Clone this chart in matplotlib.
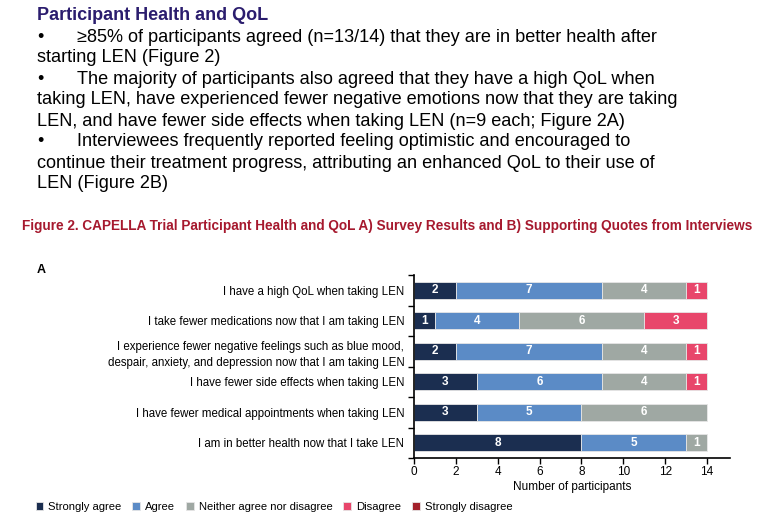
import matplotlib.pyplot as plt
import numpy as np

plt.rcParams['font.family'] = ['Liberation Sans', 'DejaVu Sans']

# survey statements, bottom to top
statements = [
    "I am in better health now that I take LEN",
    "I have fewer medical appointments when taking LEN",
    "I have fewer side effects when taking LEN",
    "I experience fewer negative feelings such as blue mood,\ndespair, anxiety, and depression now that I am taking LEN",
    "I take fewer medications now that I am taking LEN",
    "I have a high QoL when taking LEN",
]
strongly_agree = [8, 3, 3, 2, 1, 2]
agree = [5, 5, 6, 7, 4, 7]
neither = [1, 6, 4, 4, 6, 4]
disagree = [0, 0, 1, 1, 3, 1]
strongly_disagree = [0, 0, 0, 0, 0, 0]

labels = ["Strongly agree", "Agree", "Neither agree nor disagree", "Disagree", "Strongly disagree"]
colors = ["#1b2e50", "#5b8bc6", "#9fa8a3", "#e8466b", "#a3212b"]
series = [strongly_agree, agree, neither, disagree, strongly_disagree]

fig = plt.figure(figsize=(7.67, 5.30), dpi=100)

# text block above the chart
fig.text(37/767, 1-15/530, "Participant Health and QoL", fontsize=13, fontweight='bold',
         color='#2b1d6e', va='center')
body = [
    (37, 77, "\u2022", "\u226585% of participants agreed (n=13/14) that they are in better health after"),
    (37, None, None, "starting LEN (Figure 2)"),
    (37, 77, "\u2022", "The majority of participants also agreed that they have a high QoL when"),
    (37, None, None, "taking LEN, have experienced fewer negative emotions now that they are taking"),
    (37, None, None, "LEN, and have fewer side effects when taking LEN (n=9 each; Figure 2A)"),
    (37, 77, "\u2022", "Interviewees frequently reported feeling optimistic and encouraged to"),
    (37, None, None, "continue their treatment progress, attributing an enhanced QoL to their use of"),
    (37, None, None, "LEN (Figure 2B)"),
]
for i, (x0, x1, bullet, txt) in enumerate(body):
    y = 1 - (37 + i*21) / 530
    if bullet:
        fig.text(x0/767, y, bullet, fontsize=13, va='center')
        fig.text(x1/767, y, txt, fontsize=13.1, va='center')
    else:
        fig.text(x0/767, y, txt, fontsize=13.1, va='center')

fig.text(22/767, 1-226/530,
         "Figure 2. CAPELLA Trial Participant Health and QoL A) Survey Results and B) Supporting Quotes from Interviews",
         fontsize=9.77, fontweight='bold', color='#a6192e', va='center')
fig.text(37/767, 1-270/530, "A", fontsize=9, fontweight='bold', va='center')

ax = fig.add_axes([414/767, 1-458/530, 316/767, 183/530])
y = np.arange(len(statements))
left = np.zeros(len(statements))
for vals, lab, col in zip(series, labels, colors):
    vals = np.array(vals)
    bars = ax.barh(y, vals, left=left, height=0.56, color=col, label=lab,
                   edgecolor='#e6e6e6', linewidth=0.6)
    for b, v in zip(bars, vals):
        if v > 0:
            ax.text(b.get_x() + b.get_width()/2, b.get_y() + b.get_height()/2, str(v),
                    ha='center', va='center', color='white', fontsize=8.5, fontweight='bold')
    left += vals

ax.set_ylim(-0.5, len(statements) - 0.5)
ax.set_xlim(0, 15.1)
ax.set_xticks(range(0, 15, 2))
ax.set_yticks(y)
ax.set_yticklabels(statements, fontsize=8.3, linespacing=1.5)
ax.set_yticks(np.arange(-0.5, len(statements), 1), minor=True)
ax.tick_params(axis='y', which='major', length=0, pad=7)
ax.tick_params(axis='y', which='minor', length=4, width=1)
ax.tick_params(axis='x', labelsize=8.5, length=4, width=1, pad=2)
ax.set_xlabel("Number of participants", fontsize=8.5, labelpad=2)
for s in ['top', 'right']:
    ax.spines[s].set_visible(False)
for s in ['left', 'bottom']:
    ax.spines[s].set_linewidth(1.2)

fig.legend(loc='center left', bbox_to_anchor=(31/767, 1-507/530), ncol=5, frameon=False,
           fontsize=8.1, handlelength=0.7, handleheight=0.7, handletextpad=0.45,
           columnspacing=0.95, borderaxespad=0)

fig.savefig("out.png", dpi=100)
